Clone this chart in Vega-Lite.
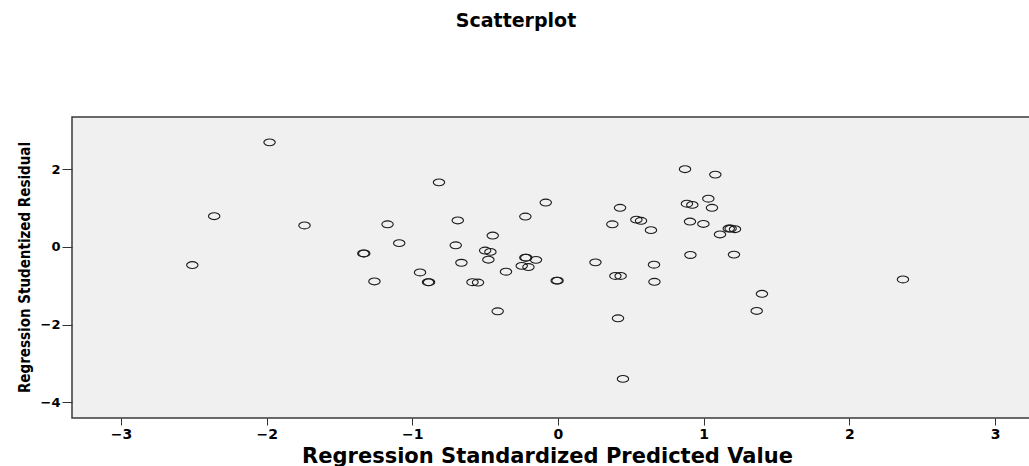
{
  "$schema": "https://vega.github.io/schema/vega-lite/v6.json",
  "autosize": {"type": "none"},
  "padding": {"left": 72, "top": 117, "right": 0, "bottom": 48},
  "width": 958,
  "height": 301,
  "background": "white",
  "title": {
    "text": "Scatterplot",
    "font": "DejaVu Sans",
    "fontSize": 19,
    "fontWeight": "bold",
    "color": "black",
    "anchor": "middle",
    "baseline": "alphabetic",
    "offset": 71,
    "dx": -35
  },
  "config": {
    "view": {"fill": "#f0f0f0", "stroke": "#3a3a3a", "strokeWidth": 1.5},
    "axis": {"grid": false, "domain": false, "tickColor": "#333", "labelColor": "black", "titleColor": "black"}
  },
  "data": {
    "values": [
      {"pred": -1.98, "resid": 2.69},
      {"pred": -0.817, "resid": 1.66},
      {"pred": -2.36, "resid": 0.79},
      {"pred": -1.74, "resid": 0.55},
      {"pred": -1.17, "resid": 0.58},
      {"pred": -1.09, "resid": 0.095},
      {"pred": -1.336, "resid": -0.17},
      {"pred": -1.33, "resid": -0.17},
      {"pred": -2.51, "resid": -0.47},
      {"pred": -0.947, "resid": -0.66},
      {"pred": -1.26, "resid": -0.89},
      {"pred": -0.892, "resid": -0.91},
      {"pred": -0.885, "resid": -0.91},
      {"pred": -0.688, "resid": 0.68},
      {"pred": -0.702, "resid": 0.04},
      {"pred": -0.663, "resid": -0.41},
      {"pred": -0.587, "resid": -0.91},
      {"pred": -0.549, "resid": -0.92},
      {"pred": -0.448, "resid": 0.29},
      {"pred": -0.5, "resid": -0.095},
      {"pred": -0.464, "resid": -0.13},
      {"pred": -0.478, "resid": -0.33},
      {"pred": -0.357, "resid": -0.64},
      {"pred": -0.414, "resid": -1.66},
      {"pred": -0.224, "resid": 0.78},
      {"pred": -0.084, "resid": 1.14},
      {"pred": -0.224, "resid": -0.28},
      {"pred": -0.218, "resid": -0.28},
      {"pred": -0.151, "resid": -0.335},
      {"pred": -0.249, "resid": -0.49},
      {"pred": -0.203, "resid": -0.52},
      {"pred": -0.009, "resid": -0.87},
      {"pred": -0.003, "resid": -0.87},
      {"pred": 0.257, "resid": -0.4},
      {"pred": 0.373, "resid": 0.58},
      {"pred": 0.426, "resid": 1.005},
      {"pred": 0.394, "resid": -0.75},
      {"pred": 0.43, "resid": -0.75},
      {"pred": 0.412, "resid": -1.84},
      {"pred": 0.446, "resid": -3.4},
      {"pred": 0.538, "resid": 0.7},
      {"pred": 0.57, "resid": 0.67},
      {"pred": 0.638, "resid": 0.43},
      {"pred": 0.659, "resid": -0.46},
      {"pred": 0.662, "resid": -0.9},
      {"pred": 0.872, "resid": 2.0},
      {"pred": 1.08, "resid": 1.86},
      {"pred": 0.885, "resid": 1.11},
      {"pred": 0.922, "resid": 1.08},
      {"pred": 1.032, "resid": 1.24},
      {"pred": 1.057, "resid": 1.005},
      {"pred": 0.906, "resid": 0.65},
      {"pred": 0.998, "resid": 0.59},
      {"pred": 1.112, "resid": 0.32},
      {"pred": 1.172, "resid": 0.47},
      {"pred": 1.185, "resid": 0.47},
      {"pred": 1.215, "resid": 0.455},
      {"pred": 0.909, "resid": -0.21},
      {"pred": 1.208, "resid": -0.2},
      {"pred": 2.368, "resid": -0.84},
      {"pred": 1.4, "resid": -1.21},
      {"pred": 1.364, "resid": -1.65}
    ]
  },
  "mark": {
    "type": "point",
    "shape": "M-1,0A1,0.6,0,1,1,1,0A1,0.6,0,1,1,-1,0Z",
    "size": 130,
    "filled": false,
    "stroke": "#1a1a1a",
    "strokeWidth": 1.1,
    "opacity": 1
  },
  "encoding": {
    "x": {
      "field": "pred",
      "type": "quantitative",
      "scale": {"domain": [-3.336, 3.24], "nice": false, "zero": false},
      "axis": {
        "title": "Regression Standardized Predicted Value",
        "values": [-3, -2, -1, 0, 1, 2, 3],
        "format": "d",
        "tickSize": 7,
        "labelPadding": 2,
        "labelFont": "DejaVu Sans",
        "labelFontWeight": "bold",
        "labelFontSize": 14,
        "titleFont": "DejaVu Sans",
        "titleFontWeight": "bold",
        "titleFontSize": 21,
        "titleX": 475,
        "titleY": 44,
        "titleBaseline": "alphabetic"
      }
    },
    "y": {
      "field": "resid",
      "type": "quantitative",
      "scale": {"domain": [-4.407, 3.343], "nice": false, "zero": false},
      "axis": {
        "title": "Regression Studentized Residual",
        "values": [-4, -2, 0, 2],
        "format": "d",
        "tickSize": 10,
        "labelPadding": 2,
        "labelFont": "DejaVu Sans",
        "labelFontWeight": "bold",
        "labelFontSize": 13,
        "titleFont": "DejaVu Sans Condensed",
        "titleFontWeight": "bold",
        "titleFontSize": 15,
        "titleX": -40,
        "titleY": 150,
        "titleAngle": 270,
        "titleBaseline": "bottom"
      }
    }
  }
}
